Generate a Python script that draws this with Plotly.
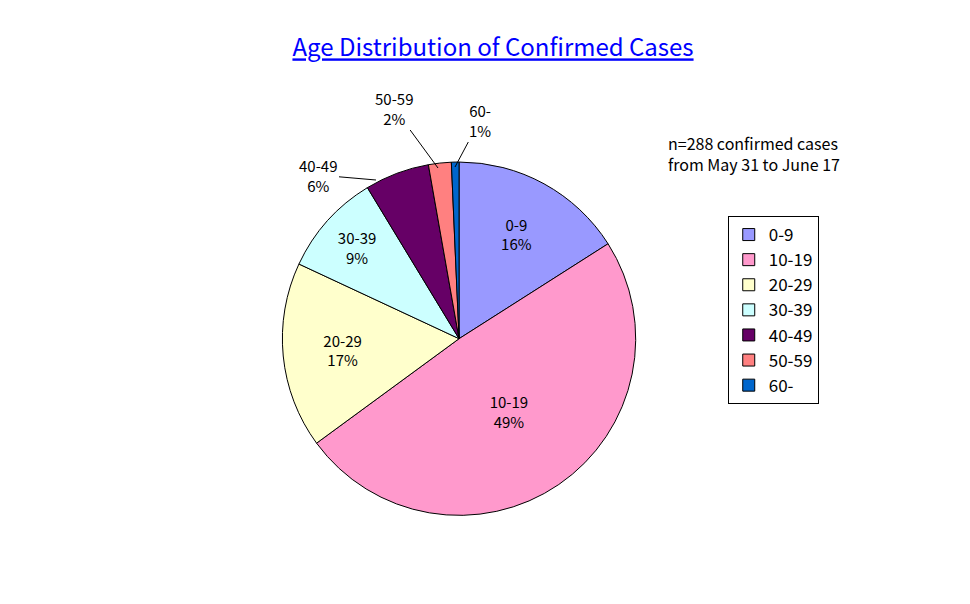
import plotly.graph_objects as go

labels = ["0-9", "10-19", "20-29", "30-39", "40-49", "50-59", "60-"]
cases = [46, 141, 49, 27, 17, 6, 2]
pct_text = ["16%", "49%", "17%", "9%", "6%", "2%", "1%"]
colors = ["#9999FF", "#FF99CC", "#FFFFCC", "#CCFFFF", "#660066", "#FF8080", "#0066CC"]
# small slices get their labels as callouts, like the original
slice_text = [l + "<br>" + p if i < 4 else "" for i, (l, p) in enumerate(zip(labels, pct_text))]

font = "Noto Sans CJK JP"

fig = go.Figure(go.Pie(
    labels=labels, values=cases, sort=False, direction="clockwise", rotation=0,
    marker=dict(colors=colors, line=dict(color="black", width=1)),
    text=slice_text, textinfo="text", textposition="inside",
    insidetextorientation="horizontal",
    textfont=dict(family=font, size=15, color="black"),
    domain=dict(x=[0.275, 0.655], y=[0.16, 0.745]),
))

callouts = [
    ("40-49", "6%", 310, 167, 368, 172),
    ("50-59", "2%", 386, 100, 430, 160),
    ("60-", "1%", 472, 112, 447, 159),
]
anns = []
for lab, p, tx, ty, px_, py_ in callouts:
    anns.append(dict(text=lab + "<br>" + p, x=px_ / 970, y=1 - py_ / 604, xref="paper", yref="paper",
                     ax=tx - px_, ay=ty - py_, showarrow=True, arrowhead=0, arrowwidth=1,
                     arrowcolor="black", font=dict(family=font, size=15, color="black")))
anns.append(dict(text="n=288 confirmed cases<br>from May 31 to June 17",
                 x=658 / 970, y=1 - 145 / 604, xref="paper", yref="paper",
                 xanchor="left", yanchor="middle", align="left", showarrow=False,
                 font=dict(family=font, size=16, color="black")))

fig.update_layout(
    width=970, height=604,
    margin=dict(l=0, r=0, t=0, b=0),
    paper_bgcolor="white", plot_bgcolor="white",
    font=dict(family=font, color="black"),
    title=dict(text="<u>Age Distribution of Confirmed Cases</u>", x=485 / 970, xanchor="center",
               y=1 - 40 / 604, yanchor="middle", font=dict(family=font, size=24, color="#0000FF")),
    legend=dict(x=0.742, y=1 - 208 / 604, xanchor="left", yanchor="top",
                bordercolor="black", borderwidth=1, font=dict(family=font, size=17),
                traceorder="normal"),
    annotations=anns,
)

fig.write_html("out.html")
